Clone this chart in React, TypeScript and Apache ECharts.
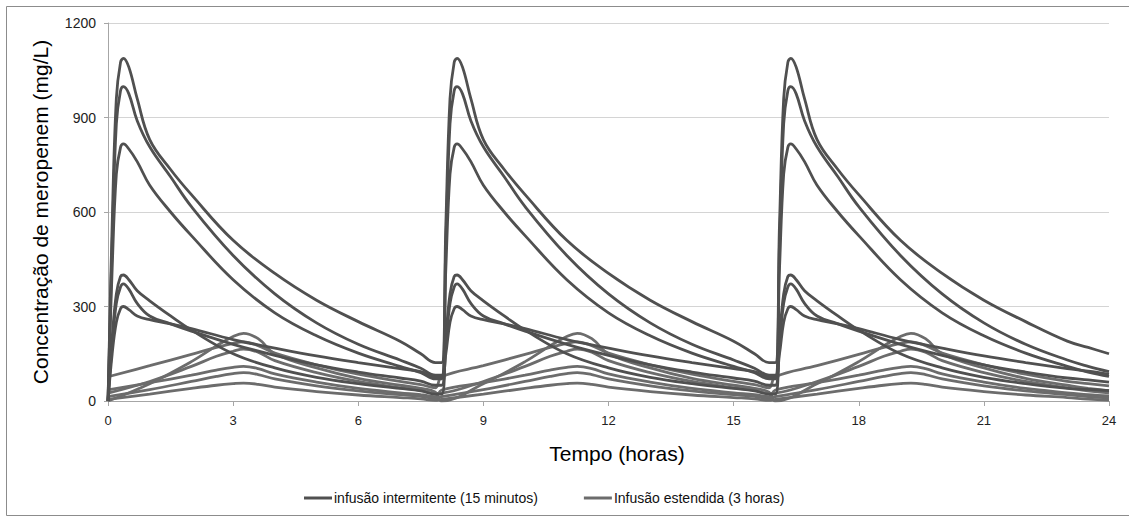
import React, { useEffect, useRef } from "react";
import * as echarts from "echarts";

// time grid (hours after each dose) for the two regimens
const TAU_INT = [0, 0.1, 0.2, 0.3, 0.37, 0.5, 0.7, 1, 1.5, 2, 3, 4, 5, 6, 7, 7.5, 7.85];
const TAU_EXT = [0, 1, 2, 2.6, 3, 3.25, 3.6, 4, 5, 6, 7, 7.5, 7.85];
const TAU_END = [7.5, 8];
const DOSE_TIMES = [0, 8, 16];

// intermittent infusion (15 min) concentration profiles, one dosing interval
const INT_1 = [0, 560, 960, 1075, 1088, 1060, 960, 830, 735, 655, 510, 405, 320, 252, 190, 150, 122];
const INT_2 = [0, 500, 880, 985, 998, 975, 890, 807, 712, 617, 462, 340, 248, 180, 130, 104, 82];
const INT_3 = [0, 420, 720, 805, 816, 800, 760, 685, 600, 525, 385, 280, 207, 152, 110, 90, 70];
const INT_4 = [0, 200, 340, 395, 400, 385, 350, 318, 270, 225, 150, 105, 75, 55, 40, 32, 22];
const INT_5 = [0, 180, 310, 362, 372, 355, 310, 270, 245, 222, 180, 145, 115, 92, 73, 63, 50];
const INT_6 = [0, 150, 250, 293, 300, 290, 270, 258, 245, 230, 195, 168, 143, 122, 103, 93, 76];
// values at the end of the last interval (t = 23.5, 24)
const INT_END = [
  [170, 150],
  [110, 93],
  [92, 78],
  [37, 33],
  [67, 60],
  [95, 85],
];

// extended infusion (3 h) concentration profiles, one dosing interval
const EXT_1 = [0, 55, 125, 175, 205, 215, 198, 150, 105, 72, 50, 40, 28];
const EXT_2 = [77, 112, 148, 170, 183, 188, 176, 152, 115, 85, 62, 52, 42];
const EXT_3 = [25, 62, 110, 142, 158, 165, 155, 128, 90, 62, 42, 34, 24];
const EXT_4 = [35, 58, 82, 98, 107, 110, 103, 86, 60, 40, 26, 20, 14];
const EXT_5 = [14, 36, 62, 78, 87, 90, 84, 70, 48, 32, 20, 15, 8];
const EXT_6 = [5, 22, 40, 50, 55, 57, 53, 44, 30, 19, 11, 7, 2];
const EXT_END = [
  [40, 33],
  [55, 48],
  [32, 26],
  [20, 16],
  [14, 10],
  [6, 3],
];

const X_TICKS = [0, 3, 6, 9, 12, 15, 18, 21, 24];
const Y_TICKS = [0, 300, 600, 900, 1200];

const NAME_INT = "infusão intermitente (15 minutos)";
const NAME_EXT = "Infusão estendida (3 horas)";
const COLOR_INT = "#505050";
const COLOR_EXT = "#6c6c6c";

function buildPoints(tau: number[], vals: number[], end: number[], carryTrough: boolean) {
  const pts: number[][] = [];
  DOSE_TIMES.forEach((off, c) => {
    const last = c === DOSE_TIMES.length - 1;
    for (let i = 0; i < tau.length; i++) {
      if (last && i >= tau.length - 2) continue;
      let v = vals[i];
      if (i === 0 && c > 0 && carryTrough) v = vals[vals.length - 1];
      pts.push([off + tau[i], v]);
    }
  });
  const lastOff = DOSE_TIMES[DOSE_TIMES.length - 1];
  TAU_END.forEach((t, k) => pts.push([lastOff + t, end[k]]));
  return pts;
}

export default function App() {
  const ref = useRef<HTMLDivElement>(null);
  useEffect(() => {
    document.body.style.margin = "0";
    const chart = echarts.init(ref.current!, undefined, { renderer: "svg" });
    const ints = [INT_1, INT_2, INT_3, INT_4, INT_5, INT_6];
    const exts = [EXT_1, EXT_2, EXT_3, EXT_4, EXT_5, EXT_6];
    const common = {
      type: "line",
      showSymbol: false,
      symbol: "none",
      smooth: 0.4,
      silent: true,
    };
    const series: any[] = [];
    exts.forEach((v, i) =>
      series.push({
        ...common,
        name: NAME_EXT,
        data: buildPoints(TAU_EXT, v, EXT_END[i], false),
        lineStyle: { color: COLOR_EXT, width: 2.8 },
        itemStyle: { color: COLOR_EXT },
      })
    );
    ints.forEach((v, i) =>
      series.push({
        ...common,
        name: NAME_INT,
        data: buildPoints(TAU_INT, v, INT_END[i], true),
        lineStyle: { color: COLOR_INT, width: 2.8 },
        itemStyle: { color: COLOR_INT },
      })
    );
    const font = "'Liberation Sans', Arial, sans-serif";
    chart.setOption({
      animation: false,
      backgroundColor: "#ffffff",
      textStyle: { fontFamily: font },
      grid: { left: 108, right: 20, top: 23, bottom: 121 },
      xAxis: {
        type: "value",
        min: X_TICKS[0],
        max: X_TICKS[X_TICKS.length - 1],
        interval: 3,
        axisLine: { show: true, lineStyle: { color: "#a6a6a6", width: 1 } },
        axisTick: { show: true, length: 5, lineStyle: { color: "#a6a6a6" } },
        axisLabel: { color: "#222", fontSize: 13, margin: 13, fontFamily: font, formatter: (v: number) => String(v) },
        splitLine: { show: false },
      },
      yAxis: {
        type: "value",
        min: Y_TICKS[0],
        max: Y_TICKS[Y_TICKS.length - 1],
        interval: 300,
        axisLine: { show: true, lineStyle: { color: "#a6a6a6", width: 1 } },
        axisTick: { show: true, length: 4, lineStyle: { color: "#a6a6a6" } },
        axisLabel: { color: "#222", fontSize: 14, margin: 12, fontFamily: font, formatter: (v: number) => String(v) },
        splitLine: { show: true, lineStyle: { color: "#d4d4d4", width: 1 } },
      },
      legend: {
        data: [NAME_INT, NAME_EXT],
        left: 299,
        top: 486,
        itemWidth: 28,
        itemHeight: 3,
        itemGap: 46,
        icon: "rect",
        textStyle: { color: "#111", fontSize: 14, fontFamily: font, padding: [0, 0, 0, -3] },
        selectedMode: false,
      },
      graphic: [
        {
          type: "rect",
          shape: { x: 6.5, y: 6.5, width: 1130, height: 509 },
          style: { fill: "none", stroke: "#8c8c8c", lineWidth: 1 },
          silent: true,
        },
        {
          type: "text",
          x: 40,
          y: 212,
          rotation: Math.PI / 2,
          style: {
            text: "Concentração de meropenem (mg/L)",
            font: `21px ${font}`,
            fill: "#000",
            textAlign: "center",
            textVerticalAlign: "middle",
          },
        },
        {
          type: "text",
          x: 617,
          y: 453,
          style: {
            text: "Tempo (horas)",
            font: `21px ${font}`,
            fill: "#000",
            textAlign: "center",
            textVerticalAlign: "middle",
          },
        },
      ],
      series,
    });
    return () => chart.dispose();
  }, []);
  return <div ref={ref} style={{ width: 1129, height: 522 }} />;
}
